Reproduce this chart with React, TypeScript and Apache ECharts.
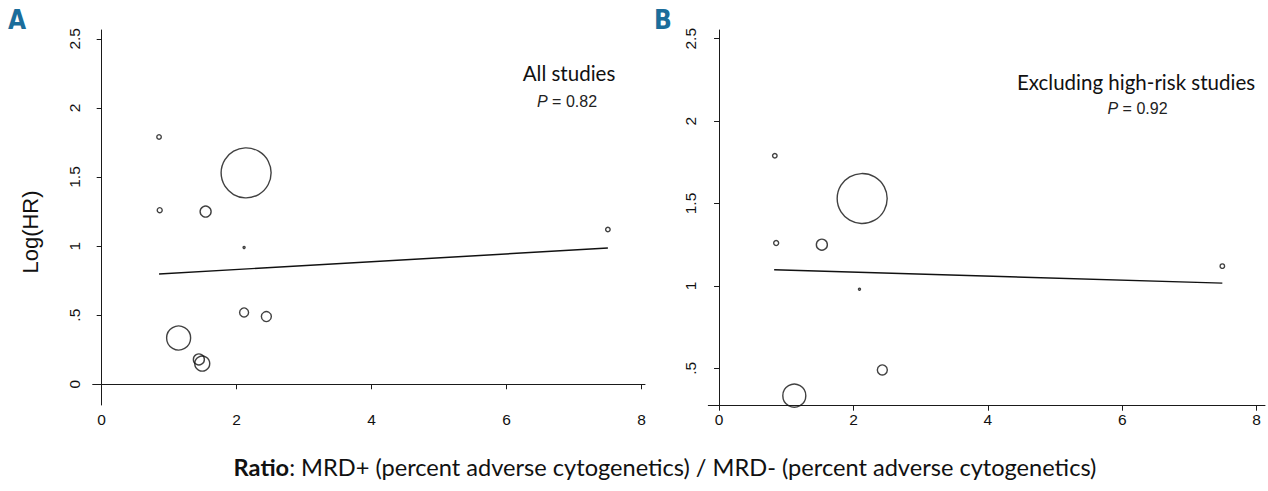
import React, { useEffect, useRef } from "react";
import * as echarts from "echarts";

// ---- data ----
const xTicks = [0, 2, 4, 6, 8];
const yTicksA = [0, 0.5, 1, 1.5, 2, 2.5];
const yTicksB = [0.5, 1, 1.5, 2, 2.5];

// Panel A: all studies (ratio, log HR, bubble weight)
const ratioA = [0.85, 0.86, 1.54, 2.14, 2.11, 2.11, 2.44, 1.14, 1.44, 1.49, 7.5];
const logHrA = [1.79, 1.26, 1.25, 1.53, 0.99, 0.52, 0.49, 0.335, 0.18, 0.15, 1.12];
const weightA = [4.5, 5, 11, 50, 2, 9, 10, 24, 11, 15, 4.5];
const fitA = [[0.85, 0.798], [7.5, 0.986]];

// Panel B: excluding high-risk studies
const ratioB = [0.83, 0.85, 1.53, 2.13, 2.09, 2.43, 1.12, 7.49];
const logHrB = [1.79, 1.26, 1.25, 1.53, 0.98, 0.49, 0.334, 1.12];
const weightB = [4.5, 5, 11, 50, 2, 10, 23, 4.5];
const fitB = [[0.82, 1.098], [7.49, 1.017]];

const titleA = "All studies";
const pA = "0.82";
const titleB = "Excluding high-risk studies";
const pB = "0.92";

const AX = "#1a1a1a";
const fmtY = (v: number) => (v === 0.5 ? ".5" : String(v));

function xAxisCfg(gridIndex: number, min: number, max: number) {
  return {
    type: "value",
    gridIndex,
    min,
    max,
    splitLine: { show: false },
    axisLine: { show: true, lineStyle: { color: AX, width: 1 } },
    axisTick: { show: true, length: 5, customValues: xTicks, lineStyle: { color: AX } },
    axisLabel: {
      customValues: xTicks,
      fontFamily: "Liberation Sans",
      fontSize: 15.5,
      color: "#111",
      margin: 6,
    },
  };
}

function yAxisCfg(gridIndex: number, min: number, max: number, ticks: number[]) {
  return {
    type: "value",
    gridIndex,
    min,
    max,
    splitLine: { show: false },
    axisLine: { show: true, lineStyle: { color: AX, width: 1 } },
    axisTick: { show: true, length: 5, customValues: ticks, lineStyle: { color: AX } },
    axisLabel: {
      customValues: ticks,
      rotate: 90,
      formatter: fmtY,
      fontFamily: "Liberation Sans",
      fontSize: 15.5,
      color: "#111",
      margin: 10,
    },
  };
}

function scatter(idx: number, xs: number[], ys: number[], ws: number[]) {
  return {
    type: "scatter",
    xAxisIndex: idx,
    yAxisIndex: idx,
    symbol: "circle",
    symbolSize: (d: number[]) => d[2],
    itemStyle: { color: "rgba(0,0,0,0)", borderColor: "#111", borderWidth: 1.4 },
    data: xs.map((v, i) => [v, ys[i], ws[i]]),
    silent: true,
    z: 3,
  };
}

function fit(idx: number, pts: number[][]) {
  return {
    type: "line",
    xAxisIndex: idx,
    yAxisIndex: idx,
    data: pts,
    symbol: "none",
    lineStyle: { color: "#111", width: 1.4 },
    silent: true,
    z: 2,
  };
}

export default function App() {
  const ref = useRef<HTMLDivElement>(null);
  useEffect(() => {
    if (!ref.current) return;
    const chart = echarts.init(ref.current, null, { renderer: "svg" });
    chart.setOption({
      animation: false,
      backgroundColor: "#fff",
      grid: [
        { left: 92.7, top: 30, width: 552.3, height: 375 },
        { left: 708.3, top: 30, width: 556.7, height: 375.7 },
      ],
      xAxis: [xAxisCfg(0, -0.133, 8.05), xAxisCfg(1, -0.16, 8.125)],
      yAxis: [yAxisCfg(0, -0.15, 2.564, yTicksA), yAxisCfg(1, 0.273, 2.553, yTicksB)],
      series: [
        fit(0, fitA),
        scatter(0, ratioA, logHrA, weightA),
        fit(1, fitB),
        scatter(1, ratioB, logHrB, weightB),
      ],
      graphic: [
        {
          type: "text",
          x: 8,
          y: 20,
          style: {
            text: "A",
            fontFamily: "Liberation Sans Narrow, DejaVu Sans Condensed, sans-serif",
            fontWeight: "bold",
            fontSize: 26,
            fill: "#1b6d9b",
            verticalAlign: "middle",
          },
        },
        {
          type: "text",
          x: 654,
          y: 20,
          style: {
            text: "B",
            fontFamily: "Liberation Sans Narrow, DejaVu Sans Condensed, sans-serif",
            fontWeight: "bold",
            fontSize: 26,
            fill: "#1b6d9b",
            verticalAlign: "middle",
          },
        },
        {
          type: "text",
          x: 30,
          y: 232,
          rotation: Math.PI / 2,
          style: {
            text: "Log(HR)",
            fontFamily: "Liberation Sans",
            fontSize: 22,
            fill: "#111",
            align: "center",
            verticalAlign: "middle",
          },
        },
        {
          type: "text",
          x: 569,
          y: 73,
          style: {
            text: titleA,
            fontFamily: "Lato",
            fontSize: 20.5,
            fill: "#111",
            align: "center",
            verticalAlign: "middle",
          },
        },
        {
          type: "text",
          x: 567,
          y: 101,
          style: {
            text: "{i|P} = " + pA,
            fontFamily: "Liberation Sans",
            fontSize: 16,
            fill: "#222",
            align: "center",
            verticalAlign: "middle",
            rich: { i: { fontStyle: "italic", fontFamily: "Liberation Sans", fontSize: 16, fill: "#222" } },
          },
        },
        {
          type: "text",
          x: 1136,
          y: 82,
          style: {
            text: titleB,
            fontFamily: "Lato",
            fontSize: 20.5,
            fill: "#111",
            align: "center",
            verticalAlign: "middle",
          },
        },
        {
          type: "text",
          x: 1137.5,
          y: 108,
          style: {
            text: "{i|P} = " + pB,
            fontFamily: "Liberation Sans",
            fontSize: 16,
            fill: "#222",
            align: "center",
            verticalAlign: "middle",
            rich: { i: { fontStyle: "italic", fontFamily: "Liberation Sans", fontSize: 16, fill: "#222" } },
          },
        },
        {
          type: "text",
          x: 665,
          y: 467,
          style: {
            text: "{b|Ratio}: MRD+ (percent adverse cytogenetics) / MRD- (percent adverse cytogenetics)",
            fontFamily: "Lato",
            fontSize: 23.6,
            fill: "#111",
            align: "center",
            verticalAlign: "middle",
            rich: { b: { fontWeight: "bold", fontFamily: "Lato", fontSize: 23.6, fill: "#111" } },
          },
        },
      ],
    });
    return () => chart.dispose();
  }, []);
  return (
    <div
      ref={ref}
      style={{ position: "fixed", left: 0, top: 0, width: 1268, height: 491, background: "#fff" }}
    />
  );
}
